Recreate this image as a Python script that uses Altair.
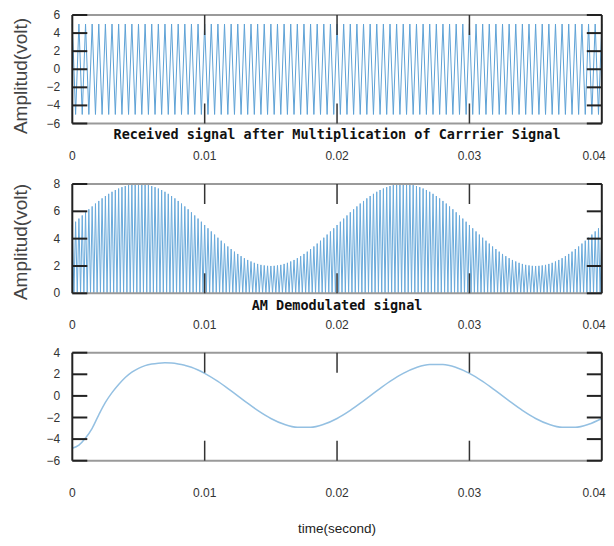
import altair as alt
import pandas as pd

# ---- axis ticks / labels ----
x_ticks = [0, 0.01, 0.02, 0.03, 0.04]
top_yticks = [-6, -4, -2, 0, 2, 4, 6]
mid_yticks = [0, 2, 4, 6, 8]
bot_yticks = [-6, -4, -2, 0, 2, 4]

title_top = "Received signal after Multiplication of Carrrier Signal"
title_mid = "AM Demodulated signal"
y_title = "Amplitud(volt)"
x_title = "time(second)"

# ---- data ----
sample_step = 0.00025  # time between successive carrier peaks (s)

carrier_peaks = [
    5, -5, 5, -5, 5, -5, 5, -5, 5, -5, 5, -5, 5, -5, 5, -5, 5, -5, 5, -5,
    5, -5, 5, -5, 5, -5, 5, -5, 5, -5, 5, -5, 5, -5, 5, -5, 5, -5, 5, -5,
    5, -5, 5, -5, 5, -5, 5, -5, 5, -5, 5, -5, 5, -5, 5, -5, 5, -5, 5, -5,
    5, -5, 5, -5, 5, -5, 5, -5, 5, -5, 5, -5, 5, -5, 5, -5, 5, -5, 5, -5,
    5, -5, 5, -5, 5, -5, 5, -5, 5, -5, 5, -5, 5, -5, 5, -5, 5, -5, 5, -5,
    5, -5, 5, -5, 5, -5, 5, -5, 5, -5, 5, -5, 5, -5, 5, -5, 5, -5, 5, -5,
    5, -5, 5, -5, 5, -5, 5, -5, 5, -5, 5, -5, 5, -5, 5, -5, 5, -5, 5, -5,
    5, -5, 5, -5, 5, -5, 5, -5, 5, -5, 5, -5, 5, -5, 5, -5, 5, -5, 5, -5,
    5,
]

am_envelope = [
    5.0,
    5.24, 5.47, 5.70, 5.93, 6.15, 6.36, 6.57, 6.76, 6.95, 7.12,
    7.28, 7.43, 7.56, 7.67, 7.77, 7.85, 7.92, 7.96, 7.99, 8.0,
    7.99, 7.96, 7.92, 7.85, 7.77, 7.67, 7.56, 7.43, 7.28, 7.12,
    6.95, 6.76, 6.57, 6.36, 6.15, 5.93, 5.70, 5.47, 5.24, 5.0,
    4.76, 4.53, 4.30, 4.07, 3.85, 3.64, 3.43, 3.24, 3.05, 2.88,
    2.72, 2.57, 2.44, 2.33, 2.23, 2.15, 2.08, 2.04, 2.01, 2.0,
    2.01, 2.04, 2.08, 2.15, 2.23, 2.33, 2.44, 2.57, 2.72, 2.88,
    3.05, 3.24, 3.43, 3.64, 3.85, 4.07, 4.30, 4.53, 4.76, 5.0,
    5.24, 5.47, 5.70, 5.93, 6.15, 6.36, 6.57, 6.76, 6.95, 7.12,
    7.28, 7.43, 7.56, 7.67, 7.77, 7.85, 7.92, 7.96, 7.99, 8.0,
    7.99, 7.96, 7.92, 7.85, 7.77, 7.67, 7.56, 7.43, 7.28, 7.12,
    6.95, 6.76, 6.57, 6.36, 6.15, 5.93, 5.70, 5.47, 5.24, 5.0,
    4.76, 4.53, 4.30, 4.07, 3.85, 3.64, 3.43, 3.24, 3.05, 2.88,
    2.72, 2.57, 2.44, 2.33, 2.23, 2.15, 2.08, 2.04, 2.01, 2.0,
    2.01, 2.04, 2.08, 2.15, 2.23, 2.33, 2.44, 2.57, 2.72, 2.88,
    3.05, 3.24, 3.43, 3.64, 3.85, 4.07, 4.30, 4.53, 4.76, 5.0,
]
am_trough = 0.0

demod_time = [
    0.0, 0.0005, 0.001, 0.0015, 0.002, 0.0025, 0.003, 0.0035, 0.004, 0.0045,
    0.005, 0.0055, 0.006, 0.0065, 0.007, 0.0075, 0.008, 0.0085, 0.009, 0.0095,
    0.010, 0.011, 0.012, 0.013, 0.014, 0.015, 0.016, 0.017, 0.018, 0.019,
    0.020, 0.021, 0.022, 0.023, 0.024, 0.025, 0.026, 0.027, 0.028, 0.029,
    0.030, 0.031, 0.032, 0.033, 0.034, 0.035, 0.036, 0.037, 0.038, 0.039,
    0.040,
]
demod_value = [
    -4.85, -4.55, -3.9, -3.0, -1.75, -0.6, 0.3, 1.05, 1.7, 2.2,
    2.55, 2.8, 2.95, 3.03, 3.06, 3.04, 2.96, 2.83, 2.66, 2.4,
    2.09, 1.34, 0.46, -0.46, -1.34, -2.09, -2.63, -2.91, -2.91, -2.63,
    -2.09, -1.34, -0.46, 0.46, 1.34, 2.09, 2.63, 2.91, 2.91, 2.63,
    2.09, 1.34, 0.46, -0.46, -1.34, -2.09, -2.63, -2.91, -2.91, -2.63,
    -2.09,
]

# ---- tables ----
top_df = pd.DataFrame({
    "t": [i * sample_step for i in range(len(carrier_peaks))],
    "v": carrier_peaks,
})
mid_t, mid_v = [], []
for i, e in enumerate(am_envelope):
    mid_t.append(i * sample_step)
    mid_v.append(e)
    if i < len(am_envelope) - 1:
        mid_t.append((i + 0.5) * sample_step)
        mid_v.append(am_trough)
mid_df = pd.DataFrame({"t": mid_t, "v": mid_v})
bot_df = pd.DataFrame({"t": demod_time, "v": demod_value})

# ---- layout (pixels inside the drawing) ----
CW, CH = 598, 530
X0, X1 = 64.3, 593.8
LABEL_FONT = "Liberation Sans"

xs = alt.Scale(domain=[x_ticks[0], x_ticks[-1]], range=[X0, X1],
               nice=False, zero=False)
x_first = pd.DataFrame({"x": x_ticks[:-1]})
x_last = pd.DataFrame({"x": x_ticks[-1:]})
x_inner = pd.DataFrame({"x": x_ticks[1:-1]})
x_edge = pd.DataFrame({"x": [x_ticks[0], x_ticks[-1]]})
x_span = pd.DataFrame({"a": [x_ticks[0]], "b": [x_ticks[-1]]})


def text_df(s):
    return pd.DataFrame({"txt": [s]})


def panel(df, ydom, yticks, ytop, ybot, color, sw, interp="linear",
          ytitle=None, ytitle_y=None, note=None, note_y=None):
    ys = alt.Scale(domain=ydom, range=[ybot, ytop], nice=False, zero=False)
    X = lambda f: alt.X(f, scale=xs, axis=None)
    Y = lambda f: alt.Y(f, scale=ys, axis=None)
    ytdf = pd.DataFrame({"y": yticks})
    L = []
    L.append(alt.Chart(df).mark_line(color=color, strokeWidth=sw,
                                     interpolate=interp).encode(
        x=X("t:Q"), y=Y("v:Q")))
    # gray top / bottom borders
    for yy in (ytop, ybot):
        L.append(alt.Chart(x_span).mark_rule(color="#9a9a9a", strokeWidth=2).encode(
            x=X("a:Q"), x2="b:Q", y=alt.value(yy)))
    # black side borders
    L.append(alt.Chart(x_edge).mark_rule(color="#222", strokeWidth=2).encode(
        x=X("x:Q"), y=alt.value(ytop), y2=alt.value(ybot)))
    # inward x ticks (top and bottom)
    L.append(alt.Chart(x_inner).mark_rule(color="#333", strokeWidth=1.5).encode(
        x=X("x:Q"), y=alt.value(ytop), y2=alt.value(ytop + 20)))
    L.append(alt.Chart(x_inner).mark_rule(color="#333", strokeWidth=1.5).encode(
        x=X("x:Q"), y=alt.value(ybot - 20), y2=alt.value(ybot)))
    # inward y ticks (left and right)
    L.append(alt.Chart(ytdf).mark_rule(color="#222", strokeWidth=2).encode(
        y=Y("y:Q"), x=alt.value(X0), x2=alt.value(X0 + 15)))
    L.append(alt.Chart(ytdf).mark_rule(color="#222", strokeWidth=2).encode(
        y=Y("y:Q"), x=alt.value(X1 - 15), x2=alt.value(X1)))
    # tick labels
    L.append(alt.Chart(ytdf).mark_text(font=LABEL_FONT, fontSize=12,
                                       color="#333", align="right",
                                       baseline="middle").encode(
        y=Y("y:Q"), x=alt.value(X0 - 12), text=alt.Text("y:Q", format="d")))
    L.append(alt.Chart(x_first).mark_text(font=LABEL_FONT, fontSize=12,
                                          color="#333", align="center",
                                          baseline="middle").encode(
        x=X("x:Q"), y=alt.value(ybot + 32), text=alt.Text("x:Q", format="~g")))
    L.append(alt.Chart(x_last).mark_text(font=LABEL_FONT, fontSize=12,
                                         color="#333", align="right", dx=4,
                                         baseline="middle").encode(
        x=X("x:Q"), y=alt.value(ybot + 32), text=alt.Text("x:Q", format="~g")))
    if note:
        L.append(alt.Chart(text_df(note)).mark_text(
            font="DejaVu Sans Mono", fontWeight="bold", fontSize=13.5,
            color="#111", align="center", baseline="middle").encode(
            x=alt.value((X0 + X1) / 2), y=alt.value(note_y), text="txt:N"))
    if ytitle:
        L.append(alt.Chart(text_df(ytitle)).mark_text(
            font=LABEL_FONT, fontSize=19, color="#444", angle=270,
            align="center", baseline="middle").encode(
            x=alt.value(13), y=alt.value(ytitle_y), text="txt:N"))
    return L


layers = []
layers += panel(top_df, [-6, 6], top_yticks, 7, 115.5, "#5ea2d6", 1,
                ytitle=y_title, ytitle_y=68, note=title_top, note_y=127)
layers += panel(mid_df, [0, 8], mid_yticks, 176, 285.3, "#6aaadb", 1,
                ytitle=y_title, ytitle_y=234, note=title_mid, note_y=298)
layers += panel(bot_df, [-6, 4], bot_yticks, 344.7, 452.7, "#94c0e2", 1.5,
                interp="monotone")
layers.append(alt.Chart(text_df(x_title)).mark_text(
    font=LABEL_FONT, fontSize=13.5, color="#222", align="center",
    baseline="alphabetic").encode(
    x=alt.value((X0 + X1) / 2), y=alt.value(525), text="txt:N"))

chart = alt.layer(*layers).resolve_scale(y="independent").properties(
    width=CW, height=CH, padding=0, background="white",
    autosize=alt.AutoSizeParams(type="none"),
).configure_view(strokeWidth=0)

chart.save("out.html", embed_options={"renderer": "svg", "actions": False})
